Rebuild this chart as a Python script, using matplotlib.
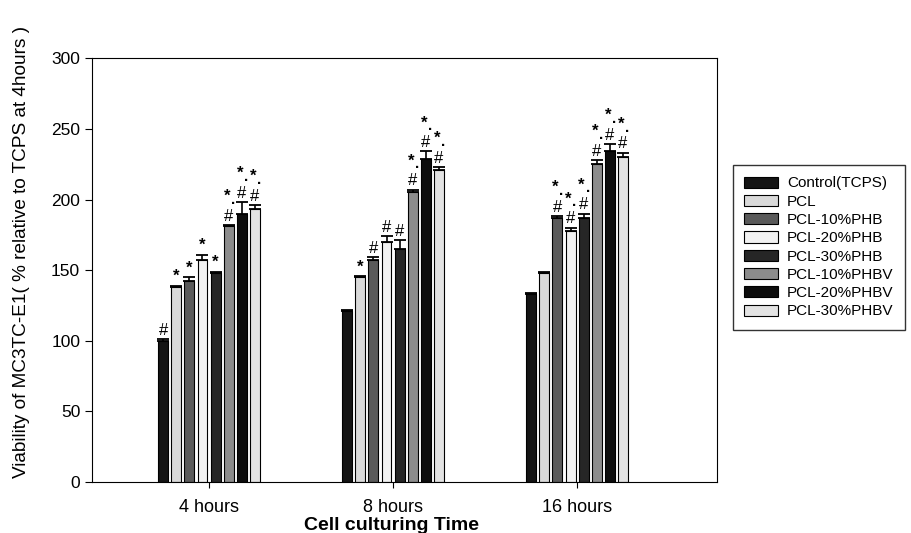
import matplotlib
matplotlib.use("Agg")
import matplotlib.pyplot as plt
import numpy as np

plt.rcParams['font.family'] = ['Liberation Sans', 'DejaVu Sans']

groups = ['4 hours', '8 hours', '16 hours']
series = ['Control(TCPS)', 'PCL', 'PCL-10%PHB', 'PCL-20%PHB', 'PCL-30%PHB',
          'PCL-10%PHBV', 'PCL-20%PHBV', 'PCL-30%PHBV']

# values per series: [4h, 8h, 16h]
values = [
    [100, 121, 133],
    [138, 145, 148],
    [142, 157, 187],
    [157, 170, 178],
    [148, 165, 187],
    [181, 205, 225],
    [190, 229, 234],
    [193, 221, 230],
]
errors = [
    [1, 1, 1],
    [1, 1, 1],
    [3, 2, 1],
    [4, 4, 2],
    [1, 6, 3],
    [1, 2, 3],
    [8, 5, 5],
    [3, 2, 3],
]
# significance marks per series: [4h, 8h, 16h]
marks = [
    ['#', '', ''],
    ['*', '*', ''],
    ['*', '#', '#*'],
    ['*', '#', '#*'],
    ['*', '#', '#*'],
    ['#*', '#*', '#*'],
    ['#*', '#*', '#*'],
    ['#*', '#*', '#*'],
]

fills = ['#141414', '#d9d9d9', '#5a5a5a', '#f2f2f2', '#262626', '#8c8c8c', '#0d0d0d', '#e3e3e3']

fig = plt.figure(figsize=(9.11, 5.33), dpi=100)
ax = fig.add_axes([0.101, 0.0957, 0.686, 0.795])

x = np.arange(len(groups))
slot = 0.0713
width = 0.054
for i, name in enumerate(series):
    pos = x + (i - 3.5) * slot
    ax.bar(pos, values[i], width, color=fills[i], edgecolor='black', linewidth=0.8, label=name)
    ax.errorbar(pos, values[i], yerr=[np.zeros(3), errors[i]], fmt='none', ecolor='black',
                elinewidth=1.2, capsize=4, capthick=1.3)
    for j in range(3):
        m = marks[i][j]
        top = values[i][j] + errors[i][j]
        if m == '':
            continue
        if m == '*':
            ax.text(pos[j], top + 1, '*', ha='center', va='bottom', fontsize=12, fontweight='bold')
        elif m == '#':
            ax.text(pos[j], top + 1, '#', ha='center', va='bottom', fontsize=12)
        else:
            ax.text(pos[j], top + 1, '#', ha='center', va='bottom', fontsize=12)
            ax.text(pos[j] - 0.011, top + 15, '*', ha='center', va='bottom', fontsize=12, fontweight='bold')
            ax.text(pos[j] + 0.022, top + 13, '.', ha='center', va='bottom', fontsize=11, fontweight='bold')

ax.set_xlim(-0.636, 2.76)
ax.set_ylim(0, 300)
ax.set_yticks(np.arange(0, 301, 50))
ax.set_xticks(x)
ax.set_xticklabels(groups, fontsize=13)
ax.tick_params(axis='x', length=4, direction='out', pad=8)
ax.tick_params(axis='y', labelsize=12.5, direction='out', length=5)
ax.set_xlabel('Cell culturing Time', fontsize=14, fontweight='bold')
ax.xaxis.set_label_coords((392 - 92) / 625, -0.083)
ax.set_ylabel('Viability of MC3TC-E1( % relative to TCPS at 4hours )', fontsize=13.7)
ax.yaxis.set_label_coords(-0.1, 0.542)

leg = ax.legend(loc='upper left', bbox_to_anchor=(1.0256, 0.748), borderaxespad=0, fontsize=11,
                frameon=True, fancybox=False, edgecolor='black', handlelength=2.2, handleheight=0.75,
                labelspacing=0.28, borderpad=0.75, handletextpad=0.6)
leg.get_frame().set_linewidth(1.0)

fig.savefig('out.png', dpi=100)
